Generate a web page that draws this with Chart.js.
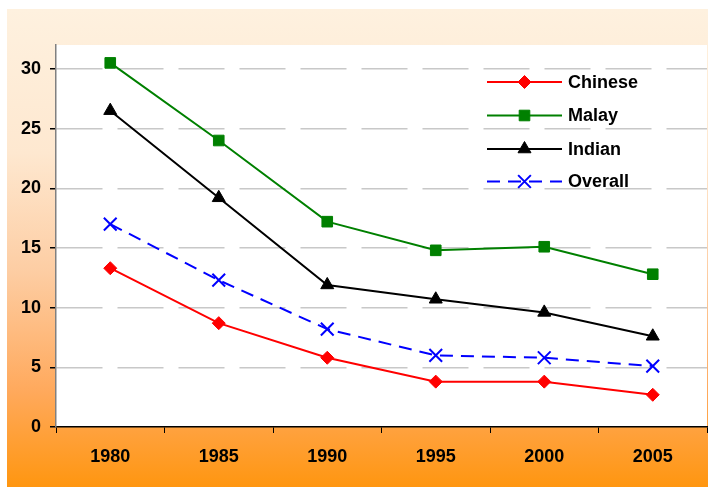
<!DOCTYPE html>
<html>
<head>
<meta charset="utf-8">
<script src="https://cdn.jsdelivr.net/npm/chart.js@4"></script>
<style>
html,body{margin:0;padding:0;background:#fff;}
#wrap{width:708px;height:487px;position:relative;}
</style>
</head>
<body>
<div id="wrap"><canvas id="c" width="708" height="487"></canvas></div>
<script>
const years = ['1980','1985','1990','1995','2000','2005'];
const chinese = [13.3, 8.7, 5.8, 3.8, 3.8, 2.7];
const malay = [30.5, 24.0, 17.2, 14.8, 15.1, 12.8];
const indian = [26.5, 19.2, 11.9, 10.7, 9.6, 7.6];
const overall = [17.0, 12.3, 8.2, 6.0, 5.8, 5.1];
const yTicks = [0, 5, 10, 15, 20, 25, 30];

const FONT = '"Liberation Sans", Arial, sans-serif';

const bgPlugin = {
  id: 'bg',
  beforeDraw(chart) {
    const ctx = chart.ctx;
    ctx.save();
    ctx.fillStyle = '#ffffff';
    ctx.fillRect(0, 0, chart.width, chart.height);
    const g = ctx.createLinearGradient(0, 9, 0, 487);
    g.addColorStop(0, '#FEF1DF');
    g.addColorStop(0.3, '#FEE8D0');
    g.addColorStop(0.55, '#FDCDA3');
    g.addColorStop(0.8, '#FFA95C');
    g.addColorStop(1, '#FF9610');
    ctx.fillStyle = g;
    ctx.fillRect(7, 9, chart.width - 7, chart.height - 9);
    const a = chart.chartArea;
    ctx.fillStyle = '#ffffff';
    ctx.fillRect(a.left, a.top, a.right - a.left, a.bottom - a.top);
    ctx.restore();
  }
};

const legendPlugin = {
  id: 'customLegend',
  afterDatasetsDraw(chart) {
    const ctx = chart.ctx;
    const ys = [82, 115.5, 149, 181.5];
    ctx.save();
    chart.data.datasets.forEach((ds, i) => {
      const y = ys[i];
      ctx.strokeStyle = ds.borderColor;
      ctx.fillStyle = ds.pointBackgroundColor;
      ctx.lineWidth = ds.borderWidth;
      ctx.setLineDash(ds.borderDash || []);
      ctx.beginPath();
      ctx.moveTo(487, y);
      ctx.lineTo(562, y);
      ctx.stroke();
      ctx.setLineDash([]);
      ctx.lineWidth = ds.pointBorderWidth;
      Chart.helpers.drawPoint(ctx, {
        pointStyle: ds.pointStyle,
        radius: ds.pointRadius,
        borderWidth: ds.pointBorderWidth,
        rotation: 0
      }, 524.5, y);
      ctx.fillStyle = '#000';
      ctx.font = 'bold 18px ' + FONT;
      ctx.textBaseline = 'middle';
      ctx.textAlign = 'left';
      ctx.fillText(ds.label, 568, y + 1);
    });
    ctx.restore();
  }
};

function mk(label, data, color, style, radius, dash) {
  return {
    label, data,
    borderColor: color,
    backgroundColor: color,
    pointBackgroundColor: color,
    pointBorderColor: color,
    pointStyle: style,
    pointRadius: radius,
    pointHoverRadius: radius,
    pointBorderWidth: style === 'crossRot' ? 2 : 1,
    borderWidth: 2,
    borderDash: dash || [],
    tension: 0,
    fill: false
  };
}

new Chart(document.getElementById('c'), {
  type: 'line',
  data: {
    labels: years,
    datasets: [
      mk('Chinese', chinese, '#FF0000', 'rectRot', 6.5),
      mk('Malay', malay, '#008000', 'rect', 7.5),
      mk('Indian', indian, '#000000', 'triangle', 7.5),
      mk('Overall', overall, '#0000FF', 'crossRot', 9, [13, 8])
    ]
  },
  options: {
    responsive: false,
    animation: false,
    devicePixelRatio: 1,
    layout: { autoPadding: false, padding: { left: 0, top: 45, right: 1, bottom: 0 } },
    plugins: {
      legend: { display: false },
      tooltip: { enabled: false }
    },
    scales: {
      x: {
        offset: true,
        grid: {
          offset: true,
          drawOnChartArea: false,
          drawTicks: true,
          tickLength: 6,
          tickColor: '#000'
        },
        border: { color: '#000', width: 1.5 },
        ticks: {
          color: '#000',
          font: { family: FONT, size: 18, weight: 'bold' },
          padding: 13,
          maxRotation: 0
        },
        afterFit(scale) { scale.height = 60; scale.paddingLeft = 0; scale.paddingRight = 0; }
      },
      y: {
        min: 0,
        max: 32,
        afterBuildTicks(scale) {
          scale.ticks = yTicks.map(v => ({ value: v }));
        },
        grid: {
          color: (c) => c.tick && c.tick.value === 0 ? 'rgba(0,0,0,0)' : '#C8C8C8',
          lineWidth: 1.5,
          drawTicks: true,
          tickLength: 6,
          tickColor: '#000',
          tickBorderDash: []
        },
        border: { color: '#808080', width: 1.5, dash: [46, 15] },
        ticks: {
          color: '#000',
          font: { family: FONT, size: 18, weight: 'bold' },
          padding: 9
        },
        afterFit(scale) { scale.width = 56; scale.paddingTop = 0; scale.paddingBottom = 0; }
      }
    }
  },
  plugins: [bgPlugin, legendPlugin]
});
</script>
</body>
</html>
